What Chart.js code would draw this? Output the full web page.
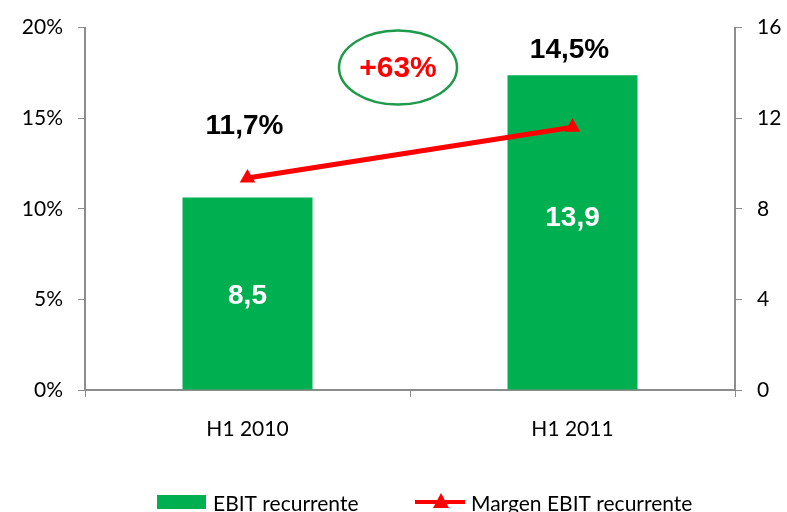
<!DOCTYPE html>
<html>
<head>
<meta charset="utf-8">
<script src="https://cdn.jsdelivr.net/npm/chart.js@4/dist/chart.umd.min.js"></script>
<style>
  html, body { margin: 0; padding: 0; background: #fff; }
  #wrap { width: 787px; height: 512px; }
</style>
</head>
<body>
<div id="wrap"><canvas id="grafico" width="787" height="512"></canvas></div>
<script>
const categorias = ['H1 2010', 'H1 2011'];
const ebitRecurrente = [8.5, 13.9];
const margenEbit = [11.7, 14.5];
const crecimiento = '+63%';

const VERDE = '#00b050';
const ROJO = '#ff0000';
const GRIS = '#8c8c8c';
const FUENTE = 'Lato, "Liberation Sans", sans-serif';

function formatNum(v, dec) {
  return v.toFixed(dec).replace('.', ',');
}

const etiquetas = {
  id: 'etiquetas',
  afterDatasetsDraw(chart) {
    const ctx = chart.ctx;
    const barras = chart.getDatasetMeta(0).data;
    const puntos = chart.getDatasetMeta(1).data;
    ctx.save();
    ctx.textAlign = 'center';
    ctx.textBaseline = 'middle';

    // valores dentro de las barras
    ctx.fillStyle = '#fff';
    ctx.font = 'bold 28px "Liberation Sans", Arial, sans-serif';
    const ajusteBarra = [3, -14];
    barras.forEach((b, i) => {
      const y = (b.y + b.base) / 2 + ajusteBarra[i];
      ctx.fillText(formatNum(ebitRecurrente[i], 1), b.x, y);
    });

    // margen encima
    ctx.fillStyle = '#000';
    const subida = [52, 77];
    puntos.forEach((p, i) => {
      ctx.fillText(formatNum(margenEbit[i], 1) + '%', p.x - 3, p.y - subida[i]);
    });

    // elipse con crecimiento
    const area = chart.chartArea;
    const cx = (barras[0].x + barras[1].x) / 2 - 12;
    const cy = area.top + 40;
    ctx.beginPath();
    ctx.ellipse(cx, cy, 59, 37, 0, 0, Math.PI * 2);
    ctx.strokeStyle = '#1e9a4a';
    ctx.lineWidth = 2.5;
    ctx.stroke();
    ctx.fillStyle = ROJO;
    ctx.font = 'bold 30px "Liberation Sans", Arial, sans-serif';
    ctx.fillText(crecimiento, cx, cy + 1);
    ctx.restore();
  }
};

const leyenda = {
  id: 'leyenda',
  afterDraw(chart) {
    const ctx = chart.ctx;
    const ds = chart.data.datasets;
    const y = 502;
    ctx.save();
    ctx.font = '21px ' + FUENTE;
    ctx.textBaseline = 'middle';
    ctx.fillStyle = ds[0].backgroundColor;
    ctx.fillRect(157, 495, 49, 14);
    ctx.fillStyle = '#000';
    ctx.fillText(ds[0].label, 213, y + 2);

    ctx.strokeStyle = ds[1].borderColor;
    ctx.lineWidth = 4;
    ctx.beginPath();
    ctx.moveTo(415, y);
    ctx.lineTo(465, y);
    ctx.stroke();
    ctx.fillStyle = ds[1].borderColor;
    ctx.beginPath();
    ctx.moveTo(441, y - 9);
    ctx.lineTo(449, y + 6);
    ctx.lineTo(433, y + 6);
    ctx.closePath();
    ctx.fill();
    ctx.fillStyle = '#000';
    ctx.fillText(ds[1].label, 471, y + 2);
    ctx.restore();
  }
};

new Chart(document.getElementById('grafico'), {
  type: 'bar',
  data: {
    labels: categorias,
    datasets: [
      {
        type: 'bar',
        label: 'EBIT recurrente',
        data: ebitRecurrente,
        backgroundColor: VERDE,
        yAxisID: 'y1',
        categoryPercentage: 0.4,
        barPercentage: 1,
        order: 2
      },
      {
        type: 'line',
        label: 'Margen EBIT recurrente',
        data: margenEbit,
        borderColor: ROJO,
        backgroundColor: ROJO,
        borderWidth: 5,
        pointStyle: 'triangle',
        pointRadius: 9,
        pointBorderWidth: 0,
        yAxisID: 'y',
        order: 1
      }
    ]
  },
  options: {
    responsive: false,
    animation: false,
    layout: { padding: { top: 23, bottom: 0, left: 0, right: 0 } },
    plugins: { legend: { display: false }, tooltip: { enabled: false } },
    scales: {
      x: {
        offset: true,
        grid: { offset: true, drawOnChartArea: false, color: GRIS, tickLength: 7 },
        border: { color: GRIS, width: 2 },
        ticks: { color: '#000', font: { family: FUENTE, size: 21 }, padding: 20 },
        afterFit(s) { s.height = 122; }
      },
      y: {
        position: 'left',
        min: 0, max: 20,
        grid: { drawOnChartArea: false, color: GRIS, tickLength: 7 },
        border: { color: GRIS, width: 2 },
        ticks: {
          stepSize: 5,
          color: '#000',
          font: { family: FUENTE, size: 21 },
          padding: 15,
          callback: v => v + '%'
        },
        afterFit(s) { s.width = 85; }
      },
      y1: {
        position: 'right',
        min: 0, max: 16,
        grid: { drawOnChartArea: false, color: GRIS, tickLength: 7 },
        border: { color: GRIS, width: 2 },
        ticks: {
          stepSize: 4,
          color: '#000',
          font: { family: FUENTE, size: 21 },
          padding: 15
        },
        afterFit(s) { s.width = 52; }
      }
    }
  },
  plugins: [etiquetas, leyenda]
});
</script>
</body>
</html>
